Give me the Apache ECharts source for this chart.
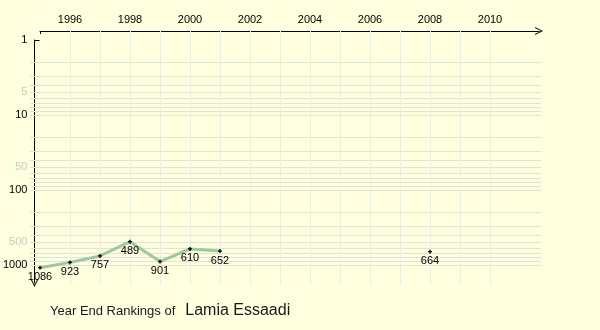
<!DOCTYPE html>
<html>
<head>
<meta charset="utf-8">
<script src="https://cdn.jsdelivr.net/npm/echarts@6/dist/echarts.min.js"></script>
<style>
  html, body { margin: 0; padding: 0; background: #ffffe0; }
  #chart { width: 600px; height: 330px; }
</style>
</head>
<body>
<div id="chart"></div>
<script>
// Year-end singles rankings (missing years are '-')
const years = [1995, 1996, 1997, 1998, 1999, 2000, 2001, 2002, 2003, 2004, 2005, 2006, 2007, 2008];
const ranks = [1086, 923, 757, 489, 901, 610, 652, '-', '-', '-', '-', '-', '-', 664];

// Axis ticks and labels
const yearTicks = [1995, 1996, 1997, 1998, 1999, 2000, 2001, 2002, 2003, 2004, 2005, 2006, 2007, 2008, 2009, 2010];
const yearLabels = [1996, 1998, 2000, 2002, 2004, 2006, 2008, 2010];
const rankMajor = [1, 10, 100, 1000];
const rankMinor = [5, 50, 500];
const playerName = 'Lamia Essaadi';

// Light grid: every 1..9 step of each decade, one line per year
const rankGrid = [];
[1, 10, 100].forEach(function (d) {
  for (let k = 2; k <= 10; k++) rankGrid.push(k * d);
});
const yearGrid = yearTicks.slice(1);

const FONT = 'Arial, "Liberation Sans", sans-serif';
const ARROW = 'path://M0,10 L5,0 L10,10 L8.6,10 L5,2.6 L1.4,10 Z';

const logAxisBase = { type: 'log', logBase: 10, inverse: true };

const chart = echarts.init(document.getElementById('chart'), null, { renderer: 'canvas' });

chart.setOption({
  backgroundColor: '#ffffe0',
  animation: false,
  title: {
    left: 50,
    top: 301,
    padding: 0,
    text: '{a|Year End Rankings of}  {b|' + playerName + '}',
    textStyle: {
      fontWeight: 'normal',
      rich: {
        a: { fontSize: 13, fontFamily: FONT, fontWeight: 'normal', color: '#1a1a1a', lineHeight: 20 },
        b: { fontSize: 16, fontFamily: FONT, fontWeight: 'normal', color: '#1a1a1a', lineHeight: 20 }
      }
    }
  },
  grid: [
    { left: 30, right: 59, top: 31, bottom: 45 },   // plot area
    { left: 40, right: 61, top: 31, bottom: 45 },   // year axis
    { left: 30, right: 59, top: 40, bottom: 47 }    // rank axis
  ],
  xAxis: [
    { gridIndex: 0, type: 'value', min: 1995 - 1 / 3, max: 2011.7, show: false },
    {
      gridIndex: 1, type: 'value', position: 'top', min: 1995, max: 1995 + 499 / 30,
      axisLine: { show: true, onZero: false, symbol: ['none', ARROW], symbolSize: [9, 8],
        lineStyle: { color: '#000', width: 1 } },
      axisTick: { show: true, customValues: yearTicks, inside: true, length: 3,
        lineStyle: { color: '#000' } },
      axisLabel: { show: true, customValues: yearLabels, margin: 6, color: '#000',
        fontSize: 11, fontFamily: FONT, formatter: function (v) { return String(v); } },
      splitLine: { show: false }
    },
    { gridIndex: 2, type: 'value', min: 0, max: 1, show: false }
  ],
  yAxis: [
    Object.assign({ gridIndex: 0, min: Math.pow(10, -9 / 75), max: Math.pow(10, 245 / 75), show: false }, logAxisBase),
    { gridIndex: 1, type: 'value', show: false },
    Object.assign({
      gridIndex: 2, position: 'left', min: 1, max: Math.pow(10, 243 / 75),
      axisLine: { show: true, onZero: false, symbol: [ARROW, 'none'], symbolSize: [9, 8],
        lineStyle: { color: '#000', width: 1 } },
      axisTick: { show: true, customValues: rankMajor, inside: true, length: 5,
        lineStyle: { color: '#000' } },
      axisLabel: { show: true, customValues: rankMajor, margin: 7, color: '#000',
        fontSize: 11, fontFamily: FONT, formatter: function (v) { return String(Math.round(v)); } },
      splitLine: { show: false }
    }, logAxisBase),
    Object.assign({
      gridIndex: 2, position: 'left', min: 1, max: Math.pow(10, 243 / 75),
      axisLine: { show: false },
      axisTick: { show: true, customValues: rankMinor, inside: false, length: 4,
        lineStyle: { color: '#d0d0d0' } },
      axisLabel: { show: true, customValues: rankMinor, margin: 7, color: '#c8c8c8',
        fontSize: 11, fontFamily: FONT, formatter: function (v) { return String(Math.round(v)); } },
      splitLine: { show: false }
    }, logAxisBase)
  ],
  series: [
    {
      // background grid lines
      type: 'line', xAxisIndex: 0, yAxisIndex: 0, data: [], z: 1,
      markLine: {
        silent: true, animation: false, z: 1, symbol: ['none', 'none'],
        label: { show: false },
        lineStyle: { type: 'solid', width: 1, color: '#e2e2dc' },
        data: rankGrid.map(function (v) { return { yAxis: v }; })
          .concat(yearGrid.map(function (v) {
            return { xAxis: v, lineStyle: { type: 'solid', width: 1, color: '#ebebeb' } };
          }))
      }
    },
    {
      name: playerName,
      type: 'line', xAxisIndex: 0, yAxisIndex: 0, z: 3,
      data: years.map(function (y, i) { return [y, ranks[i]]; }),
      connectNulls: false,
      showSymbol: true,
      symbol: 'path://M1,0 H2 V3 H1 Z M0,1 H3 V2 H0 Z',
      symbolSize: 4,
      itemStyle: { color: '#000' },
      lineStyle: { color: '#9dc99d', width: 3 },
      label: {
        show: true, position: 'bottom', distance: 2, color: '#000',
        fontSize: 11, fontFamily: FONT, fontWeight: 'normal',
        textBorderWidth: 0, textShadowBlur: 0,
        formatter: function (p) { return String(p.value[1]); }
      }
    }
  ]
});
</script>
</body>
</html>
